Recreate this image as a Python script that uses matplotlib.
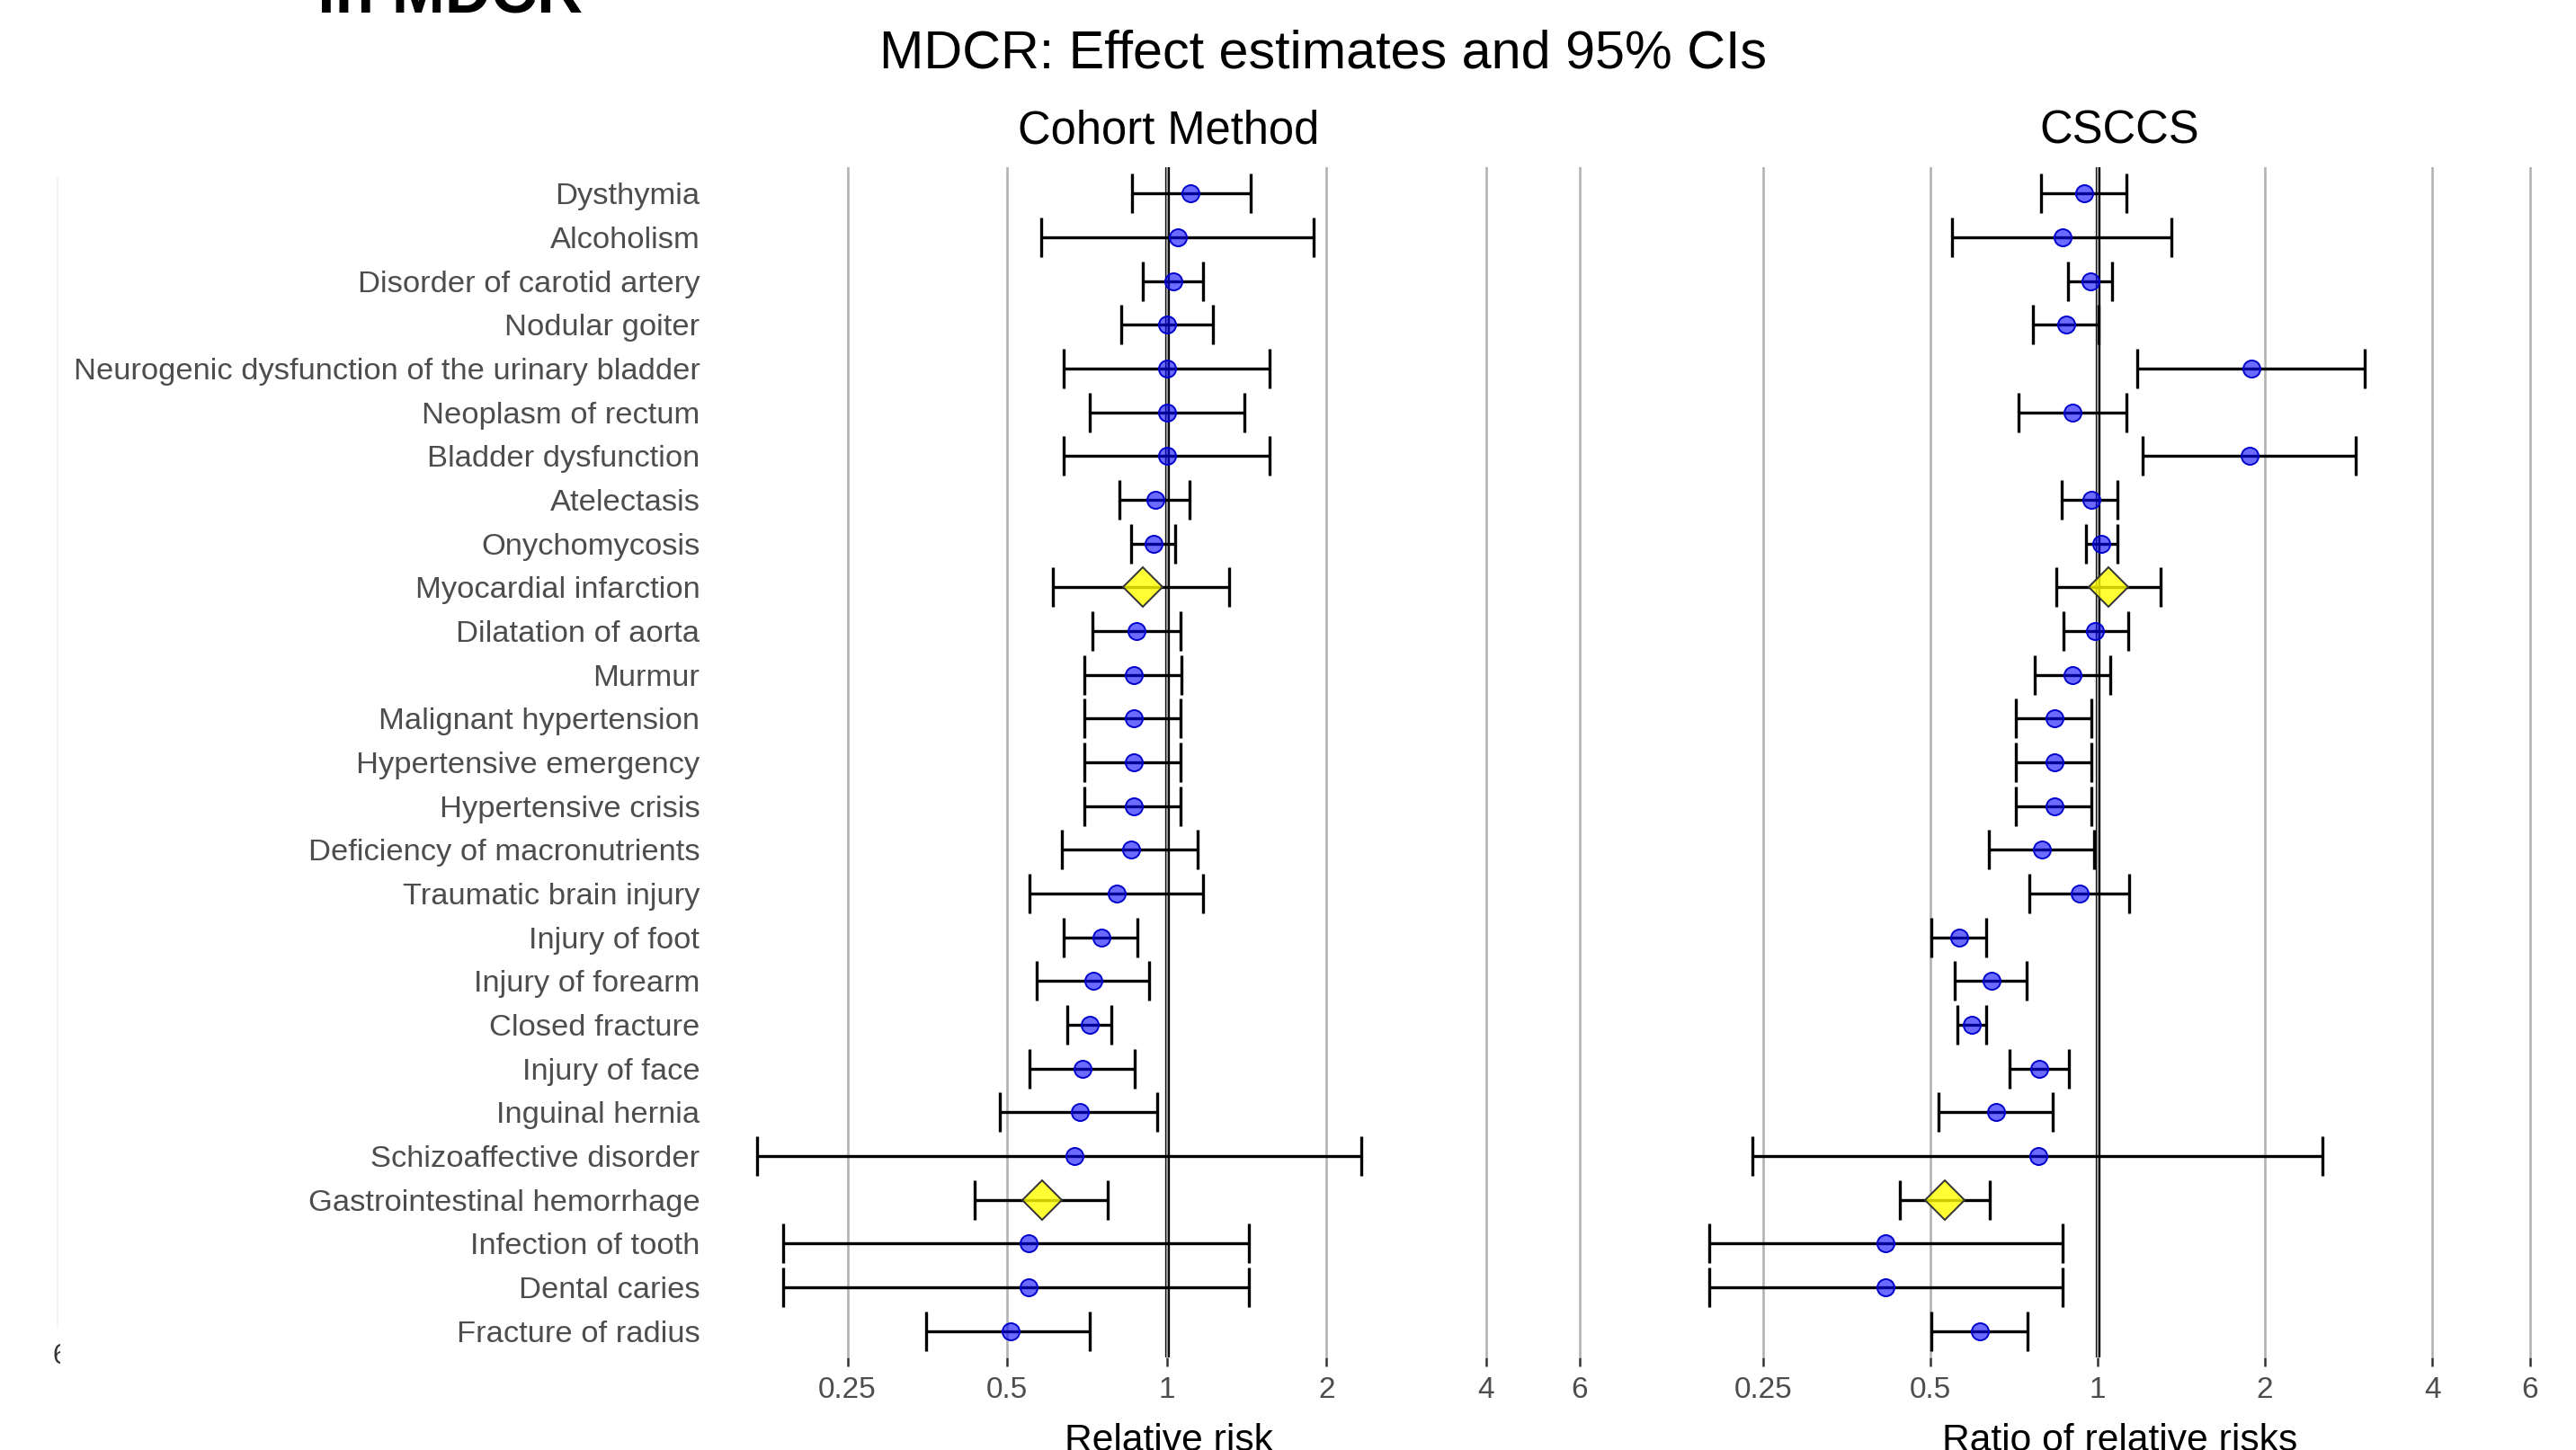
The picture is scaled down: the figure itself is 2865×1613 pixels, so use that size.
import numpy as np
import matplotlib
matplotlib.use("Agg")
import matplotlib.pyplot as plt
from matplotlib.lines import Line2D
from matplotlib.transforms import Bbox, TransformedBbox

plt.rcParams['font.family'] = ['Liberation Sans', 'DejaVu Sans']

# ------------------- Data -------------------
outcomes = [
    "Dysthymia", "Alcoholism", "Disorder of carotid artery", "Nodular goiter",
    "Neurogenic dysfunction of the urinary bladder", "Neoplasm of rectum",
    "Bladder dysfunction", "Atelectasis", "Onychomycosis", "Myocardial infarction",
    "Dilatation of aorta", "Murmur", "Malignant hypertension",
    "Hypertensive emergency", "Hypertensive crisis", "Deficiency of macronutrients",
    "Traumatic brain injury", "Injury of foot", "Injury of forearm",
    "Closed fracture", "Injury of face", "Inguinal hernia",
    "Schizoaffective disorder", "Gastrointestinal hemorrhage",
    "Infection of tooth", "Dental caries", "Fracture of radius",
]
highlight = ["Myocardial infarction", "Gastrointestinal hemorrhage"]

# Cohort method: relative risk and 95% CI
cm_rr = [1.11, 1.05, 1.03, 1.00, 1.00, 1.00, 1.00, 0.95, 0.945, 0.90,
         0.878, 0.866, 0.866, 0.866, 0.866, 0.857, 0.805, 0.753, 0.728,
         0.716, 0.694, 0.685, 0.669, 0.583, 0.548, 0.548, 0.507]
cm_lo = [0.86, 0.58, 0.90, 0.82, 0.64, 0.715, 0.64, 0.813, 0.857, 0.61,
         0.725, 0.698, 0.70, 0.70, 0.70, 0.635, 0.551, 0.639, 0.569,
         0.65, 0.551, 0.485, 0.169, 0.434, 0.189, 0.189, 0.352]
cm_hi = [1.44, 1.89, 1.17, 1.22, 1.56, 1.40, 1.56, 1.104, 1.037, 1.31,
         1.06, 1.067, 1.06, 1.06, 1.06, 1.145, 1.17, 0.879, 0.927,
         0.785, 0.87, 0.958, 2.33, 0.774, 1.43, 1.43, 0.715]

# CSCCS: ratio of relative risks and 95% CI
cs_rr = [0.946, 0.864, 0.972, 0.877, 1.89, 0.902, 1.877, 0.973, 1.014, 1.047,
         0.991, 0.90, 0.835, 0.835, 0.835, 0.794, 0.927, 0.564, 0.644,
         0.594, 0.786, 0.656, 0.781, 0.532, 0.416, 0.416, 0.614]
cs_lo = [0.791, 0.548, 0.884, 0.766, 1.18, 0.72, 1.206, 0.861, 0.954, 0.843,
         0.867, 0.77, 0.712, 0.712, 0.712, 0.637, 0.754, 0.503, 0.553,
         0.56, 0.695, 0.517, 0.239, 0.441, 0.20, 0.20, 0.503]
cs_hi = [1.126, 1.36, 1.061, 1.004, 3.02, 1.126, 2.91, 1.086, 1.084, 1.296,
         1.134, 1.054, 0.975, 0.975, 0.975, 0.986, 1.138, 0.631, 0.745,
         0.631, 0.888, 0.831, 2.54, 0.639, 0.866, 0.866, 0.748]

breaks = [0.25, 0.5, 1, 2, 4, 6]
break_labels = ["0.25", "0.5", "1", "2", "4", "6"]

# ------------------- Figure -------------------
W, H = 2865, 1613
fig = plt.figure(figsize=(W / 100, H / 100), dpi=100)
fig.patch.set_facecolor("white")

panel_top, panel_bot = 186, 1510
ax_b = 1 - panel_bot / H
ax_h = (panel_bot - panel_top) / H
ax1 = fig.add_axes([796.5 / W, ax_b, 1006 / W, ax_h])
ax2 = fig.add_axes([1855.2 / W, ax_b, 1004.4 / W, ax_h])

n = len(outcomes)
ypos = np.arange(n)[::-1]
is_hl = np.array([o in highlight for o in outcomes])


def forest(ax, rr, lo, hi, xlabel, title, show_labels):
    rr, lo, hi = np.array(rr), np.array(lo), np.array(hi)
    ax.set_xscale("log", base=2)
    # limits: lowest CI to 6, with 5% expansion in log space
    a, b = np.log2(min(lo.min(), breaks[0])), np.log2(breaks[-1])
    pad = 0.05 * (b - a)
    ax.set_xlim(2 ** (a - pad), 2 ** (b + pad))
    ax.set_ylim(-0.6, n - 0.4)

    ax.set_xticks(breaks)
    ax.set_xticklabels(break_labels)
    ax.xaxis.set_minor_locator(matplotlib.ticker.NullLocator())
    ax.grid(axis="x", which="major", color="#B3B3B3", lw=1.9)
    ax.set_axisbelow(True)
    for s in ax.spines.values():
        s.set_visible(False)

    ax.axvline(1, color="black", lw=3.8, zorder=1.5)
    ax.axvline(1, color="#9A9A9A", lw=1.6, zorder=1.6)

    ax.errorbar(rr, ypos, xerr=[rr - lo, hi - rr], fmt="none", ecolor="black",
                elinewidth=2.4, capsize=15.5, capthick=2.4, zorder=3)
    ax.plot(rr[~is_hl], ypos[~is_hl], "o", ms=13.7, mfc=(0, 0, 1, 0.58),
            mec="#0000CC", mew=1.4, zorder=4)
    ax.plot(rr[is_hl], ypos[is_hl], "D", ms=22, mfc=(1, 1, 0, 0.8),
            mec="#333333", mew=1.4, zorder=4)

    ax.tick_params(axis="x", length=7, width=1.8, color="#333333",
                   labelsize=24, labelcolor="#4D4D4D", pad=8)
    ax.set_yticks(ypos)
    if show_labels:
        ax.set_yticklabels(outcomes)
        ax.tick_params(axis="y", length=0, labelsize=24.8,
                       labelcolor="#4D4D4D", pad=13)
    else:
        ax.set_yticklabels([])
        ax.tick_params(axis="y", length=0)

    ax.text(0.5, 1 + 27 / (panel_bot - panel_top), title, transform=ax.transAxes,
            ha="center", va="baseline", fontsize=36.5, color="black")
    # axis title sits at the bottom edge and is partly cut off there
    ax.text(0.5, -104 / (panel_bot - panel_top), xlabel, transform=ax.transAxes,
            ha="center", va="baseline", fontsize=30.7, color="black")


forest(ax1, cm_rr, cm_lo, cm_hi, "Relative risk", "Cohort Method", True)
forest(ax2, cs_rr, cs_lo, cs_hi, "Ratio of relative risks", "CSCCS", False)

# ------------------- Titles -------------------
fig.text(1472 / W, 1 - 75 / H, "MDCR: Effect estimates and 95% CIs",
         ha="center", va="baseline", fontsize=42.7, color="black")

# slide title cut off at the top edge
fig.text(353 / W, 1 - 14 / H, "in MDCR", ha="left", va="baseline",
         fontsize=51, fontweight="bold", color="black")

# leftovers of the slide at the left edge
fig.add_artist(Line2D([64 / W, 64 / W], [1 - 197 / H, 1 - 1477 / H],
                      color="#F2F2F2", lw=1.2))
t6 = fig.text(58 / W, 1 - 1517 / H, "6", ha="left", va="baseline",
              fontsize=22, color="#333333")
t6.set_clip_box(TransformedBbox(Bbox([[0, 0], [67 / W, 1]]), fig.transFigure))
t6.set_clip_on(True)

fig.savefig("out.png", dpi=100, facecolor="white")
